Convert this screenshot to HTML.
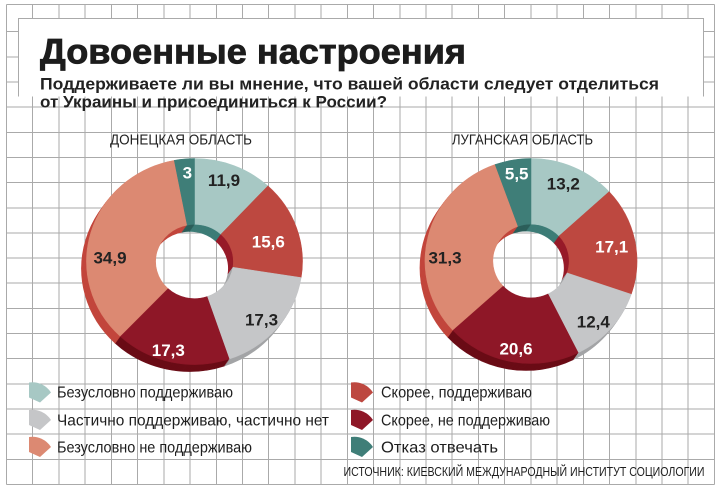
<!DOCTYPE html>
<html>
<head>
<meta charset="utf-8">
<style>
html,body{margin:0;padding:0;background:#fff;}
svg{display:block;}
text{font-family:"Liberation Sans","Noto Sans CJK SC",sans-serif;}
</style>
</head>
<body>
<svg width="721" height="492" viewBox="0 0 721 492" xmlns="http://www.w3.org/2000/svg">
<rect x="0" y="0" width="721" height="492" fill="#fff"/>
<!-- grid -->
<g stroke="#aaaaaa" stroke-width="1" fill="none" shape-rendering="crispEdges">
<path d="M6.5,4.5V484.4 M32.7,4.5V484.4 M58.9,4.5V484.4 M85.2,4.5V484.4 M111.4,4.5V484.4 M137.6,4.5V484.4 M163.8,4.5V484.4 M190,4.5V484.4 M216.3,4.5V484.4 M242.5,4.5V484.4 M268.7,4.5V484.4 M294.9,4.5V484.4 M321.1,4.5V484.4 M347.4,4.5V484.4 M373.6,4.5V484.4 M399.8,4.5V484.4 M426,4.5V484.4 M452.2,4.5V484.4 M478.5,4.5V484.4 M504.7,4.5V484.4 M530.9,4.5V484.4 M557.1,4.5V484.4 M583.3,4.5V484.4 M609.6,4.5V484.4 M635.8,4.5V484.4 M662,4.5V484.4 M688.2,4.5V484.4 M714.4,4.5V484.4"/>
<path d="M6.5,4.5H714.4 M6.5,31.7H714.4 M6.5,56.85H714.4 M6.5,82H714.4 M6.5,107.15H714.4 M6.5,132.3H714.4 M6.5,157.45H714.4 M6.5,182.6H714.4 M6.5,207.75H714.4 M6.5,232.9H714.4 M6.5,258.05H714.4 M6.5,283.2H714.4 M6.5,308.35H714.4 M6.5,333.5H714.4 M6.5,358.65H714.4 M6.5,383.8H714.4 M6.5,408.95H714.4 M6.5,434.1H714.4 M6.5,459.25H714.4 M6.5,484.4H714.4"/>
</g>
<!-- title box -->
<rect x="18.5" y="18.5" width="685" height="78" fill="#fff"/>
<path d="M18.5,96.5V18.5H703.5V96.5" stroke="#aaaaaa" stroke-width="1" fill="none" shape-rendering="crispEdges"/>

<text x="40" y="63.5" font-size="35" font-weight="bold" fill="#1c1c1c" stroke="#1c1c1c" stroke-width="0.8" textLength="426" lengthAdjust="spacingAndGlyphs">Довоенные настроения</text>
<text x="40" y="89.5" font-size="16.5" font-weight="bold" fill="#222" textLength="619" lengthAdjust="spacingAndGlyphs">Поддерживаете ли вы мнение, что вашей области следует отделиться</text>
<text x="40" y="107.5" font-size="16.5" font-weight="bold" fill="#222" textLength="347" lengthAdjust="spacingAndGlyphs">от Украины и присоединиться к России?</text>

<text x="110" y="144.5" font-size="15" fill="#222" textLength="142" lengthAdjust="spacingAndGlyphs">ДОНЕЦКАЯ ОБЛАСТЬ</text>
<text x="452" y="144.5" font-size="15" fill="#222" textLength="141" lengthAdjust="spacingAndGlyphs">ЛУГАНСКАЯ ОБЛАСТЬ</text>

<defs>
<g id="dWall" transform="translate(194.5,261.5) scale(1.08,1.03)" stroke-width="0.6">
<path fill="#3d7c77" stroke="#3d7c77" d="M0,-100 A100,100 0 0 1 68,-73.33 L24.48,-26.4 A36,36 0 0 0 0,-36 Z"/>
<path fill="#971b29" stroke="#971b29" d="M68,-73.33 A100,100 0 0 1 98.77,15.64 L35.56,5.63 A36,36 0 0 0 24.48,-26.4 Z"/>
<path fill="#a3a4a6" stroke="#a3a4a6" d="M98.77,15.64 A100,100 0 0 1 32.1,94.71 L11.56,34.1 A36,36 0 0 0 35.56,5.63 Z"/>
<path fill="#6a0c16" stroke="#6a0c16" d="M32.1,94.71 A100,100 0 0 1 -68.91,72.46 L-24.81,26.09 A36,36 0 0 0 11.56,34.1 Z"/>
<path fill="#c2463c" stroke="#c2463c" d="M-68.91,72.46 A100,100 0 0 1 -18.74,-98.23 L-6.75,-35.36 A36,36 0 0 0 -24.81,26.09 Z"/>
<path fill="#2c5f5a" stroke="#2c5f5a" d="M-18.74,-98.23 A100,100 0 0 1 0,-100 L0,-36 A36,36 0 0 0 -6.75,-35.36 Z"/>
</g>
<g id="lWall" transform="translate(531,261) scale(1.06,1.025)" stroke-width="0.6">
<path fill="#3d7c77" stroke="#3d7c77" d="M0,-100 A100,100 0 0 1 73.69,-67.59 L26.53,-24.33 A36,36 0 0 0 0,-36 Z"/>
<path fill="#971b29" stroke="#971b29" d="M73.69,-67.59 A100,100 0 0 1 94.57,32.51 L34.05,11.7 A36,36 0 0 0 26.53,-24.33 Z"/>
<path fill="#a3a4a6" stroke="#a3a4a6" d="M94.57,32.51 A100,100 0 0 1 44.51,89.54 L16.02,32.23 A36,36 0 0 0 34.05,11.7 Z"/>
<path fill="#6a0c16" stroke="#6a0c16" d="M44.51,89.54 A100,100 0 0 1 -73.9,67.36 L-26.6,24.25 A36,36 0 0 0 16.02,32.23 Z"/>
<path fill="#c2463c" stroke="#c2463c" d="M-73.9,67.36 A100,100 0 0 1 -33.84,-94.1 L-12.18,-33.88 A36,36 0 0 0 -26.6,24.25 Z"/>
<path fill="#2c5f5a" stroke="#2c5f5a" d="M-33.84,-94.1 A100,100 0 0 1 0,-100 L0,-36 A36,36 0 0 0 -12.18,-33.88 Z"/>
</g>
</defs>

<!-- Donetsk walls -->
<use href="#dWall" transform="translate(-5,7)"/>
<use href="#dWall" transform="translate(-4.29,6)"/>
<use href="#dWall" transform="translate(-3.57,5)"/>
<use href="#dWall" transform="translate(-2.86,4)"/>
<use href="#dWall" transform="translate(-2.14,3)"/>
<use href="#dWall" transform="translate(-1.43,2)"/>
<use href="#dWall" transform="translate(-0.71,1)"/>
<!-- Donetsk face -->
<g transform="translate(194.5,261.5) scale(1.08,1.03)" stroke-width="0.5">
<path fill="#a7c8c4" stroke="#a7c8c4" d="M0,-100 A100,100 0 0 1 68,-73.33 L24.48,-26.4 A36,36 0 0 0 0,-36 Z"/>
<path fill="#bd4840" stroke="#bd4840" d="M68,-73.33 A100,100 0 0 1 98.77,15.64 L35.56,5.63 A36,36 0 0 0 24.48,-26.4 Z"/>
<path fill="#c5c6c8" stroke="#c5c6c8" d="M98.77,15.64 A100,100 0 0 1 32.1,94.71 L11.56,34.1 A36,36 0 0 0 35.56,5.63 Z"/>
<path fill="#8e1727" stroke="#8e1727" d="M32.1,94.71 A100,100 0 0 1 -68.91,72.46 L-24.81,26.09 A36,36 0 0 0 11.56,34.1 Z"/>
<path fill="#dc8972" stroke="#dc8972" d="M-68.91,72.46 A100,100 0 0 1 -18.74,-98.23 L-6.75,-35.36 A36,36 0 0 0 -24.81,26.09 Z"/>
<path fill="#3f7e78" stroke="#3f7e78" d="M-18.74,-98.23 A100,100 0 0 1 0,-100 L0,-36 A36,36 0 0 0 -6.75,-35.36 Z"/>
</g>

<!-- Luhansk walls -->
<use href="#lWall" transform="translate(-5,7)"/>
<use href="#lWall" transform="translate(-4.29,6)"/>
<use href="#lWall" transform="translate(-3.57,5)"/>
<use href="#lWall" transform="translate(-2.86,4)"/>
<use href="#lWall" transform="translate(-2.14,3)"/>
<use href="#lWall" transform="translate(-1.43,2)"/>
<use href="#lWall" transform="translate(-0.71,1)"/>
<!-- Luhansk face -->
<g transform="translate(531,261) scale(1.06,1.025)" stroke-width="0.5">
<path fill="#a7c8c4" stroke="#a7c8c4" d="M0,-100 A100,100 0 0 1 73.69,-67.59 L26.53,-24.33 A36,36 0 0 0 0,-36 Z"/>
<path fill="#bd4840" stroke="#bd4840" d="M73.69,-67.59 A100,100 0 0 1 94.57,32.51 L34.05,11.7 A36,36 0 0 0 26.53,-24.33 Z"/>
<path fill="#c5c6c8" stroke="#c5c6c8" d="M94.57,32.51 A100,100 0 0 1 44.51,89.54 L16.02,32.23 A36,36 0 0 0 34.05,11.7 Z"/>
<path fill="#8e1727" stroke="#8e1727" d="M44.51,89.54 A100,100 0 0 1 -73.9,67.36 L-26.6,24.25 A36,36 0 0 0 16.02,32.23 Z"/>
<path fill="#dc8972" stroke="#dc8972" d="M-73.9,67.36 A100,100 0 0 1 -33.84,-94.1 L-12.18,-33.88 A36,36 0 0 0 -26.6,24.25 Z"/>
<path fill="#3f7e78" stroke="#3f7e78" d="M-33.84,-94.1 A100,100 0 0 1 0,-100 L0,-36 A36,36 0 0 0 -12.18,-33.88 Z"/>
</g>

<!-- slice labels -->
<g font-size="17" font-weight="bold" text-anchor="middle">
<text x="187.3" y="178.7" fill="#fff">3</text>
<text x="224" y="186" fill="#222">11,9</text>
<text x="268.3" y="247.5" fill="#fff">15,6</text>
<text x="261.5" y="325.5" fill="#222">17,3</text>
<text x="168.3" y="356" fill="#fff">17,3</text>
<text x="110" y="263.3" fill="#222">34,9</text>

<text x="516.7" y="179.3" fill="#fff">5,5</text>
<text x="563.3" y="189.3" fill="#222">13,2</text>
<text x="611.7" y="252.7" fill="#fff">17,1</text>
<text x="593.3" y="327.7" fill="#222">12,4</text>
<text x="516" y="354.3" fill="#fff">20,6</text>
<text x="445" y="263.3" fill="#222">31,3</text>
</g>

<!-- legend icons -->
<g>
<path transform="translate(29,381.5)" fill="#a7c8c4" d="M0,1 A22,22 0 0 1 22,11 L11,21 L0,16 Z"/>
<path transform="translate(29,409)" fill="#c5c6c8" d="M0,1 A22,22 0 0 1 22,11 L11,21 L0,16 Z"/>
<path transform="translate(29,436)" fill="#dc8972" d="M0,1 A22,22 0 0 1 22,11 L11,21 L0,16 Z"/>
<path transform="translate(351,381.5)" fill="#bd4840" d="M0,1 A22,22 0 0 1 22,11 L11,21 L0,16 Z"/>
<path transform="translate(351,409)" fill="#8e1727" d="M0,1 A22,22 0 0 1 22,11 L11,21 L0,16 Z"/>
<path transform="translate(351,436)" fill="#3f7e78" d="M0,1 A22,22 0 0 1 22,11 L11,21 L0,16 Z"/>
</g>

<!-- legend text -->
<g font-size="16" fill="#1e1e1e">
<text x="57" y="397.5" textLength="176" lengthAdjust="spacingAndGlyphs">Безусловно поддерживаю</text>
<text x="57" y="425.5" textLength="272" lengthAdjust="spacingAndGlyphs">Частично поддерживаю, частично нет</text>
<text x="57" y="452.3" textLength="195" lengthAdjust="spacingAndGlyphs">Безусловно не поддерживаю</text>
<text x="381" y="397.5" textLength="151" lengthAdjust="spacingAndGlyphs">Скорее, поддерживаю</text>
<text x="381" y="425.5" textLength="169" lengthAdjust="spacingAndGlyphs">Скорее, не поддерживаю</text>
<text x="381" y="452.3" textLength="117" lengthAdjust="spacingAndGlyphs">Отказ отвечать</text>
</g>

<text x="343.5" y="476" font-size="13" fill="#1e1e1e" textLength="361" lengthAdjust="spacingAndGlyphs">ИСТОЧНИК: КИЕВСКИЙ МЕЖДУНАРОДНЫЙ ИНСТИТУТ СОЦИОЛОГИИ</text>
</svg>
</body>
</html>
